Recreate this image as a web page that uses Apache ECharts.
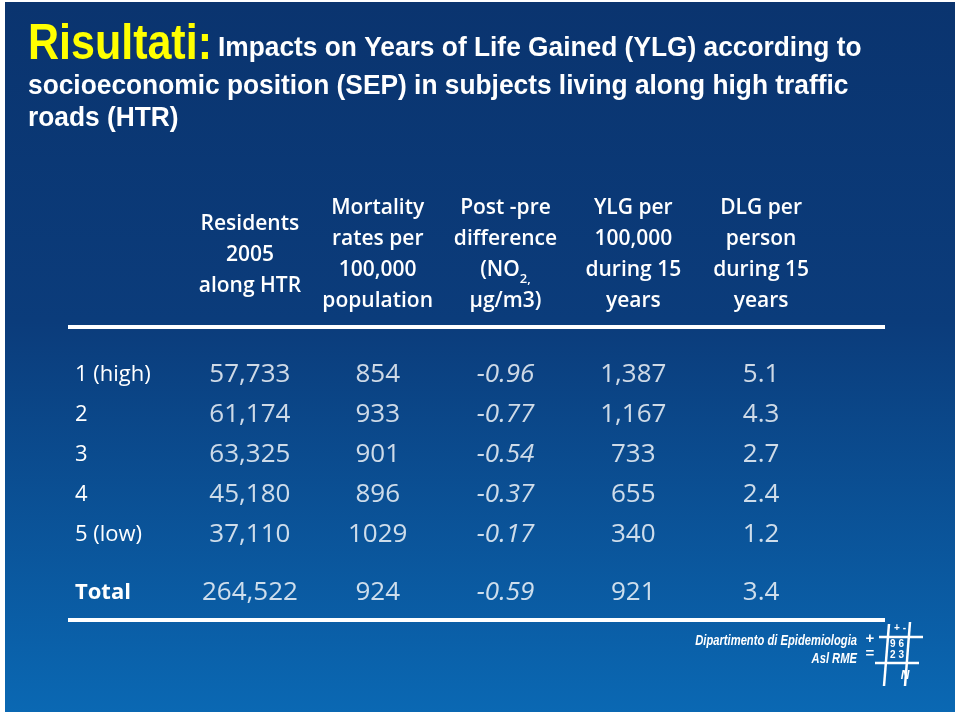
<!DOCTYPE html>
<html><head><meta charset="utf-8">
<script src="https://cdn.jsdelivr.net/npm/echarts@6/dist/echarts.min.js"></script>
<style>html,body{margin:0;padding:0;background:#fff}#c{width:960px;height:716px}</style>
</head><body><div id="c"></div>
<script>
// ---- data ----
const headers = [
  'Residents\n2005\nalong HTR',
  'Mortality\nrates per\n100,000\npopulation',
  'Post -pre\ndifference\n(NO{sub|2,}\nμg/m3)',
  'YLG per\n100,000\nduring 15\nyears',
  'DLG per\nperson\nduring 15\nyears'
];
const rowLabels = ['1 (high)', '2', '3', '4', '5 (low)'];
const totalLabel = ['Total'];
const residents = [57733, 61174, 63325, 45180, 37110];
const mortality = [854, 933, 901, 896, 1029];
const no2Diff = [-0.96, -0.77, -0.54, -0.37, -0.17];
const ylg = [1387, 1167, 733, 655, 340];
const dlg = [5.1, 4.3, 2.7, 2.4, 1.2];
const totals = [264522, 924, -0.59, 921, 3.4];
const titleLead = 'Risultati:';
const titleLines = [
  'Impacts on Years of Life Gained (YLG) according to',
  'socioeconomic position (SEP) in subjects living along high traffic',
  'roads (HTR)'
];

// ---- build ----
const withComma = v => String(v).replace(/\B(?=(\d{3})+(?!\d))/g, ',');
const fmt = [withComma, v => String(v), v => v.toFixed(2), withComma, v => v.toFixed(1)];
const cols = [residents, mortality, no2Diff, ylg, dlg];
const FONT = "'Open Sans', 'DejaVu Sans', sans-serif";
const TFONT = "'Liberation Sans', Arial, sans-serif";

function cell(c, r, v) {
  return { value: [c, r], txt: fmt[c](v), label: c === 2 ? { fontStyle: 'italic' } : {} };
}
const bodyData = [];
rowLabels.forEach((_, r) => cols.forEach((col, c) => bodyData.push(cell(c, r, col[r]))));
const totalData = totals.map((v, c) => cell(c, 0, v));

const hiddenAxis = { axisLine: { show: false }, axisTick: { show: false }, splitLine: { show: false } };
const cellLabel = {
  show: true, position: 'inside', formatter: p => p.data.txt,
  color: '#ffffff', fontSize: 26, fontFamily: FONT
};
function titleText(x, y, text, size, color, sx) {
  return { type: 'text', z: 5, x: x, y: y, scaleX: sx,
    style: { x: 0, y: 0, text: text, fill: color, font: 'bold ' + size + 'px ' + TFONT, verticalAlign: 'middle' } };
}

const chart = echarts.init(document.getElementById('c'), null, { renderer: 'canvas' });
chart.setOption({
  animation: false,
  backgroundColor: '#ffffff',
  graphic: [
    { type: 'rect', z: -10, silent: true, shape: { x: 5, y: 2, width: 950, height: 710 },
      style: { fill: { type: 'linear', x: 0, y: 0, x2: 0, y2: 1, colorStops: [
        { offset: 0, color: '#0a346f' }, { offset: 0.45, color: '#0b3c7b' }, { offset: 1, color: '#0a68b3' } ] } } },
    titleText(28, 45, titleLead, 50, '#ffff00', 0.86),
    titleText(218, 48, titleLines[0], 28, '#ffffff', 0.94),
    titleText(28, 86, titleLines[1], 28, '#ffffff', 0.94),
    titleText(28, 118, titleLines[2], 28, '#ffffff', 0.94),
    { type: 'rect', z: 5, shape: { x: 68, y: 325, width: 817, height: 4 }, style: { fill: '#ffffff' } },
    { type: 'rect', z: 5, shape: { x: 68, y: 618, width: 817, height: 4 }, style: { fill: '#ffffff' } },
    // logo
    { type: 'text', z: 5, x: 857, y: 641, scaleX: 0.8, style: { x: 0, y: 0, text: 'Dipartimento di Epidemiologia', fill: '#ffffff', font: 'italic bold 14px ' + TFONT, align: 'right', verticalAlign: 'middle' } },
    { type: 'text', z: 5, x: 857, y: 659, scaleX: 0.8, style: { x: 0, y: 0, text: 'Asl RME', fill: '#ffffff', font: 'italic bold 14px ' + TFONT, align: 'right', verticalAlign: 'middle' } },
    { type: 'line', z: 5, shape: { x1: 889, y1: 624, x2: 884, y2: 686 }, style: { stroke: '#ffffff', lineWidth: 2.5 } },
    { type: 'line', z: 5, shape: { x1: 910, y1: 622, x2: 905, y2: 686 }, style: { stroke: '#ffffff', lineWidth: 2.5 } },
    { type: 'line', z: 5, shape: { x1: 879, y1: 637, x2: 923, y2: 637 }, style: { stroke: '#ffffff', lineWidth: 2.5 } },
    { type: 'line', z: 5, shape: { x1: 875, y1: 663, x2: 919, y2: 663 }, style: { stroke: '#ffffff', lineWidth: 2.5 } },
    { type: 'text', z: 5, style: { x: 897, y: 650, text: '9 6\n2 3', fill: '#ffffff', font: 'bold 10px ' + TFONT, align: 'center', verticalAlign: 'middle', lineHeight: 11 } },
    { type: 'text', z: 5, style: { x: 870, y: 646, text: '+\n=', fill: '#ffffff', font: 'bold 15px ' + TFONT, align: 'center', verticalAlign: 'middle', lineHeight: 15 } },
    { type: 'text', z: 5, style: { x: 900, y: 628, text: '+ -', fill: '#ffffff', font: 'bold 10px ' + TFONT, align: 'center', verticalAlign: 'middle' } },
    { type: 'text', z: 5, style: { x: 905, y: 676, text: 'N', fill: '#ffffff', font: 'italic bold 12px ' + TFONT, align: 'center', verticalAlign: 'middle' } }
  ],
  grid: [
    { left: 186, right: 135, top: 355, height: 200 },
    { left: 186, right: 135, top: 573, height: 40 }
  ],
  xAxis: [
    Object.assign({ type: 'category', gridIndex: 0, position: 'top', data: headers,
      axisLabel: { interval: 0, margin: 100, verticalAlign: 'middle', color: '#ffffff', fontSize: 21, fontWeight: 600,
        fontFamily: FONT, lineHeight: 31, align: 'center',
        rich: { sub: { fontSize: 13, fontWeight: 600, fontFamily: FONT, color: '#ffffff', lineHeight: 22, verticalAlign: 'bottom' } } } }, hiddenAxis),
    Object.assign({ type: 'category', gridIndex: 1, data: headers, axisLabel: { show: false } }, hiddenAxis)
  ],
  yAxis: [
    Object.assign({ type: 'category', gridIndex: 0, inverse: true, data: rowLabels,
      axisLabel: { align: 'left', margin: 111, color: '#ffffff', fontSize: 22, fontFamily: FONT } }, hiddenAxis),
    Object.assign({ type: 'category', gridIndex: 1, inverse: true, data: totalLabel,
      axisLabel: { align: 'left', margin: 111, color: '#ffffff', fontSize: 22, fontWeight: 'bold', fontFamily: FONT } }, hiddenAxis)
  ],
  series: [
    { type: 'scatter', xAxisIndex: 0, yAxisIndex: 0, symbolSize: 1, silent: true,
      itemStyle: { color: 'rgba(0,0,0,0)' }, label: cellLabel, data: bodyData },
    { type: 'scatter', xAxisIndex: 1, yAxisIndex: 1, symbolSize: 1, silent: true,
      itemStyle: { color: 'rgba(0,0,0,0)' }, label: cellLabel, data: totalData }
  ]
});
</script></body></html>
